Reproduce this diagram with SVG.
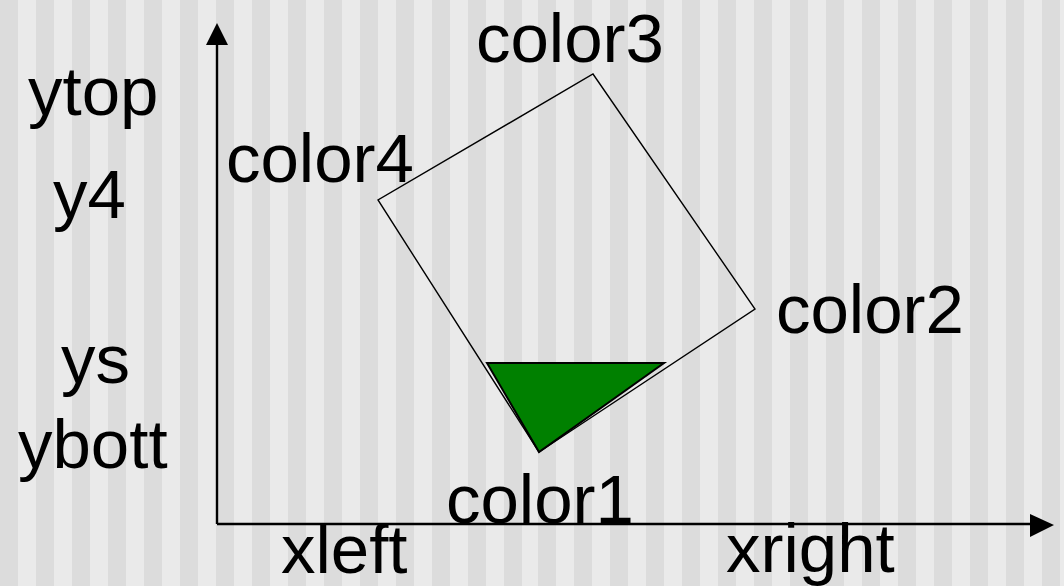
<svg xmlns="http://www.w3.org/2000/svg" width="1064" height="586" viewBox="0 0 1064 586">
<style>
text{font-family:"Liberation Sans",Arial,sans-serif;font-size:69px;fill:#000}
.ax{stroke:#000;stroke-width:2.4;fill:none}
.edge{stroke:#000;stroke-width:1.4;fill:none}
</style>
<defs>
<pattern id="s1" patternUnits="userSpaceOnUse" x="0" y="0" width="36" height="10"><rect width="18" height="10" fill="#dcdcdc"/></pattern>
<pattern id="s2" patternUnits="userSpaceOnUse" x="538" y="0" width="36" height="10"><rect width="18" height="10" fill="#dcdcdc"/></pattern>
</defs>
<g id="background">
<rect width="1064" height="586" fill="#eaeaea"/>
<rect x="0" y="0" width="522" height="586" fill="url(#s1)"/>
<rect x="538" y="0" width="526" height="586" fill="url(#s2)"/>
</g>
<g id="connectors">
<line class="ax" x1="217" y1="524" x2="217" y2="40"/>
<polygon points="217,23 206,45 228,45" fill="#000"/>
<line class="ax" x1="217" y1="524" x2="1036" y2="524"/>
<polygon points="1054,525 1030,514 1030,537" fill="#000"/>
</g>
<g id="quad">
<polygon class="edge" points="539,452 755,309 593,74 378,200"/>
</g>
<g id="fill-triangle">
<polygon points="487,363 664,363 539,452" fill="#008000" stroke="#000" stroke-width="2"/>
</g>
<g id="labels">
<text x="28" y="115">ytop</text>
<text x="53" y="218">y4</text>
<text x="61" y="383">ys</text>
<text x="18" y="468">ybott</text>
<text x="226" y="182">color4</text>
<text x="476" y="62">color3</text>
<text x="776" y="333">color2</text>
<text x="446" y="523">color1</text>
<text x="281" y="573">xleft</text>
<text x="726" y="572">xright</text>
</g>
</svg>
